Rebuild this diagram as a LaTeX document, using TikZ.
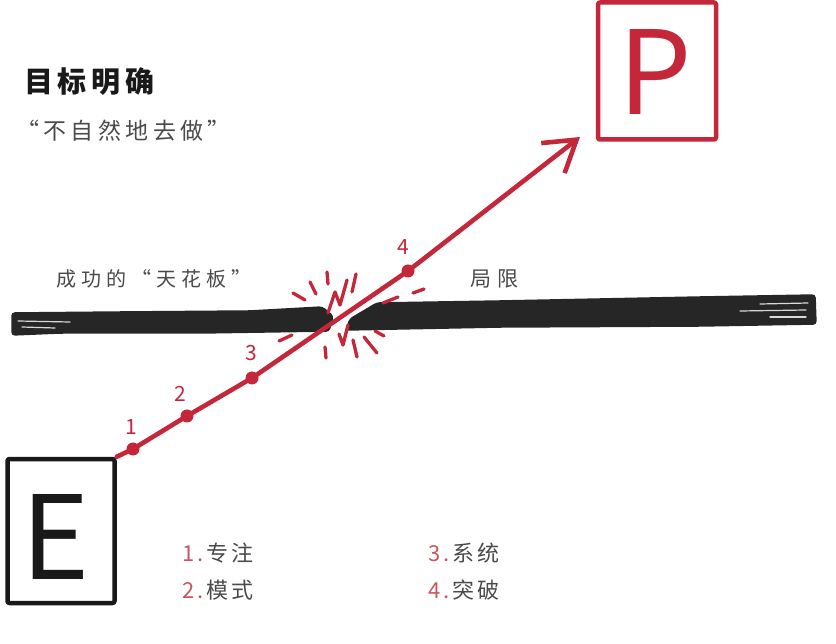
\documentclass[tikz,border=0pt]{standalone}
\usepackage{fontspec}
\newfontfamily\cjk{Noto Sans CJK SC}
\usetikzlibrary{arrows.meta}
\definecolor{hred}{HTML}{C4263A}
\definecolor{lred}{HTML}{C85560}
\definecolor{tgray}{HTML}{4A4A4A}
\definecolor{barc}{HTML}{262626}
\begin{document}
\begin{tikzpicture}[x=1pt,y=-1pt,
  hbox/.style={draw, line width=4.5pt, line join=round, rounded corners=2pt, inner sep=0pt},
  bigletter/.style={font=\cjk\fontsize{116}{116}\selectfont, inner sep=0pt},
  dot/.style={circle, fill=hred, inner sep=0pt, minimum size=13pt},
  numlab/.style={text=hred, font=\cjk\fontsize{21}{21}\selectfont, inner sep=0pt},
  redline/.style={draw=hred, line width=4.6pt, line join=round, line cap=round},
  burst/.style={draw=hred, line width=3.3pt, line cap=round, line join=round},
  bar/.style={fill=barc, draw=barc, line width=1.5pt, rounded corners=3pt},
  streak/.style={draw=white!85!black, line width=1.2pt, line cap=round},
  legend/.style={anchor=west, text=tgray, font=\cjk\fontsize{22}{22}\selectfont\addfontfeature{LetterSpace=12}, inner sep=0pt},
  graytext/.style={anchor=west, text=tgray, inner sep=0pt}
]
\useasboundingbox (0,0) rectangle (836,644);

% titles
\node[anchor=west, text=black!90, inner sep=0pt,
  font=\cjk\bfseries\fontsize{29}{29}\selectfont\addfontfeature{LetterSpace=16}] (title) at (24,82) {目标明确};
\node[graytext, font=\cjk\fontsize{23}{23}\selectfont\addfontfeature{LetterSpace=19}] (sub) at (16,131) {“不自然地去做”};

% ceiling bar
\path[bar] (12,313) -- (120,312) -- (250,311) -- (322,307) -- (333,316) -- (329,331)
  -- (200,333) -- (60,333) -- (12,335) -- cycle;
\path[bar] (377,303) -- (500,301) -- (600,299) -- (700,297) -- (815,295) -- (816,324)
  -- (700,326) -- (500,327) -- (346,330) -- (350,319) -- cycle;
\draw[streak] (18,321) -- (70,322);
\draw[streak] (22,327) -- (55,328);
\draw[streak] (760,304) -- (808,303);
\draw[streak] (740,311) -- (806,310);
\draw[streak] (770,317) -- (806,317);

\node[graytext, font=\cjk\fontsize{20}{20}\selectfont\addfontfeature{LetterSpace=25}] (ceil) at (56,279) {成功的“天花板”};
\node[graytext, font=\cjk\fontsize{21}{21}\selectfont\addfontfeature{LetterSpace=28}] (limit) at (470,279) {局限};

% boxes
\node[hbox, draw=black!90, minimum width=107pt, minimum height=144pt] (Ebox) at (61,531) {};
\node[bigletter, text=black!90] (E) at (56,537) {E};
\node[hbox, draw=hred, minimum width=118pt, minimum height=137pt] (Pbox) at (657,71) {};
\node[bigletter, text=hred] (P) at (655,72) {P};

% dots and labels
\node[dot] (d1) at (133,449) {};
\node[dot] (d2) at (187,416) {};
\node[dot] (d3) at (252,378) {};
\node[dot] (d4) at (408,271) {};
\coordinate (tip) at (580,137);
\node[numlab] (n1) at (131,427) {1};
\node[numlab] (n2) at (180,394) {2};
\node[numlab] (n3) at (251,353) {3};
\node[numlab] (n4) at (403,247) {4};

\draw[redline, -{Straight Barb[length=30pt,width=38pt]}]
  (Ebox.north east) -- (d1.center) -- (d2.center) -- (d3.center) -- (d4.center) -- (tip);

% burst
\draw[burst] (293,293) -- (305,300);
\draw[burst] (310,282) -- (316,294);
\draw[burst] (327,272) -- (328,284);
\draw[burst] (328,313) -- (335,292) -- (340,305) -- (347,280);
\draw[burst] (356,274) -- (352,292);
\draw[burst] (383,303) -- (398,297);
\draw[burst] (413,293) -- (424,289);
\draw[burst] (279,341) -- (292,335);
\draw[burst] (325,347) -- (326,358);
\draw[burst] (339,334) -- (343,345) -- (348,325);
\draw[burst] (353,340) -- (357,357);
\draw[burst] (364,337) -- (377,353);
\draw[burst] (375,331) -- (384,336);

% legend
\node[legend] (l1) at (182,553) {{\color{lred}1.}\,专注};
\node[legend] (l2) at (182,590) {{\color{lred}2.}\,模式};
\node[legend] (l3) at (428,553) {{\color{lred}3.}\,系统};
\node[legend] (l4) at (428,590) {{\color{lred}4.}\,突破};
\end{tikzpicture}
\end{document}
